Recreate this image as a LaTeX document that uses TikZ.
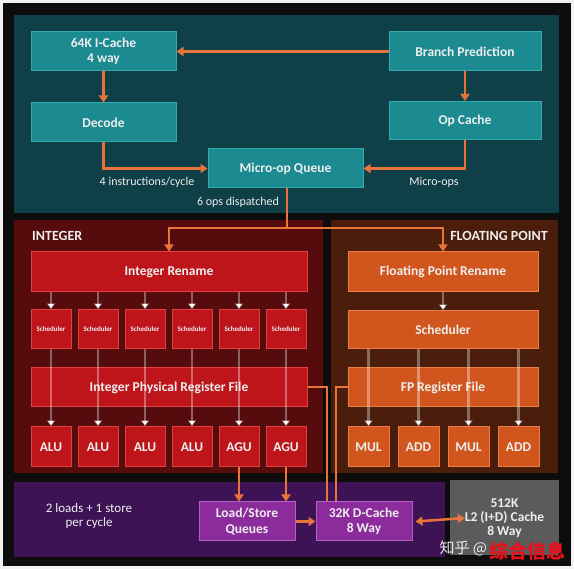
\documentclass[tikz,border=0pt]{standalone}
\usepackage{fontspec}
\setmainfont{Carlito}
\newfontfamily\cjk{Noto Sans CJK SC}
\usepackage{xcolor}
\definecolor{frontend}{HTML}{0F3F47}
\definecolor{frontbox}{HTML}{1B8A91}
\definecolor{frontline}{HTML}{35A9AE}
\definecolor{intpanel}{HTML}{560B0C}
\definecolor{intbox}{HTML}{BE151B}
\definecolor{intline}{HTML}{E2403F}
\definecolor{fppanel}{HTML}{4B1E0C}
\definecolor{fpbox}{HTML}{D1561D}
\definecolor{fpline}{HTML}{EA7D43}
\definecolor{mempanel}{HTML}{3E1356}
\definecolor{membox}{HTML}{8B2B9C}
\definecolor{memline}{HTML}{B460C4}
\definecolor{ltwo}{HTML}{5B5B5B}
\definecolor{wire}{HTML}{E9743B}
\definecolor{label}{HTML}{EEEEEE}
\definecolor{stamp}{HTML}{E8101A}
\usepackage{tikz}
\usetikzlibrary{arrows.meta}
\tikzset{
    font={\fontsize{13.5pt}{15.5pt}\selectfont\bfseries},
    unit/.style={draw, line width=1pt, text=label, align=center, inner sep=0pt},
    front/.style={unit, fill=frontbox, draw=frontline},
    intunit/.style={unit, fill=intbox, draw=intline},
    fpunit/.style={unit, fill=fpbox, draw=fpline},
    memunit/.style={unit, fill=membox, draw=memline},
    wirearrow/.style={draw=wire, line width=2.5pt, -{Triangle[width=9pt,length=7pt]}},
    wireline/.style={draw=wire, line width=2pt},
    issue/.style={draw=white, draw opacity=.35, line width=2.5pt, -{Triangle[width=8pt,length=6pt]}},
    note/.style={text=label, font={\fontsize{12pt}{14pt}\selectfont}},
    title/.style={text=label, inner sep=0pt, font={\fontsize{14pt}{16pt}\selectfont\bfseries}},
    }

\begin{document}
\begin{tikzpicture}
    [x=1pt, y=-1pt]
    \useasboundingbox (0,0) rectangle (574,569);
    \fill[white!90!gray] (0,0) rectangle (574,569);
    \fill[black!95] (3,3) rectangle (571,566);
    % panels
    \fill[frontend] (14,15) rectangle (559,213);
    \fill[intpanel] (14,220) rectangle (323,473);
    \fill[fppanel] (331,220) rectangle (558,473);
    \fill[mempanel] (14,482) rectangle (445,557);
    % front end
    \node[front, minimum width=145pt, minimum height=39pt] (icache) at (103.5,51.5) {64K I-Cache\\4 way};
    \node[front, minimum width=152pt, minimum height=39pt] (bpred) at (465,51.5) {Branch Prediction};
    \node[front, minimum width=145pt, minimum height=39pt] (decode) at (103.5,122.5) {Decode};
    \node[front, minimum width=152pt, minimum height=38pt] (opcache) at (465,120.5) {Op Cache};
    \node[front, minimum width=155pt, minimum height=39pt] (uopq) at (285.5,168.5) {Micro-op Queue};
    \draw[wirearrow] (bpred.west) -- (icache.east);
    \draw[wirearrow] (icache.south) -- (decode.north);
    \draw[wirearrow] (bpred.south) -- (opcache.north);
    \draw[wirearrow] (decode.south) |- (uopq.west);
    \draw[wirearrow] (opcache.south) |- (uopq.east);
    \node[note] (instr) at (147,182) {4 instructions/cycle};
    \node[note] (uops) at (434,182) {Micro-ops};
    \node[note] (dispatch) at (238,202) {6 ops dispatched};
    % integer
    \node[title, anchor=west] (inttitle) at (32,236) {INTEGER};
    \node[intunit, minimum width=276pt, minimum height=40pt] (irename) at (169,272) {Integer Rename};
    \foreach \i/\name in {0/ALU,1/ALU,2/ALU,3/ALU,4/AGU,5/AGU} {
        \node[intunit, minimum width=40pt, minimum height=39pt,
            font={\fontsize{7pt}{8pt}\selectfont\bfseries}] (isched\i) at (51+47*\i,329.5) {Scheduler};
        \node[intunit, minimum width=40pt, minimum height=40pt,
            font={\fontsize{13.5pt}{15pt}\selectfont\bfseries}] (iexec\i) at (51+47*\i,447) {\name};
        \draw[issue] (isched\i.north |- irename.south) -- (isched\i.north);
    }
    \node[intunit, minimum width=276pt, minimum height=39pt] (iprf) at (169,387.5) {Integer Physical Register File};
    \foreach \i in {0,...,5}
        \draw[issue] (isched\i.south) -- (iexec\i.north);
    % floating point
    \node[title, anchor=east] (fptitle) at (548,236) {FLOATING POINT};
    \node[fpunit, minimum width=190pt, minimum height=40pt] (frename) at (443,272) {Floating Point Rename};
    \node[fpunit, minimum width=190pt, minimum height=38pt] (fsched) at (443,330) {Scheduler};
    \draw[issue] (frename.south) -- (fsched.north);
    \foreach \i/\name in {0/MUL,1/ADD,2/MUL,3/ADD}
        \node[fpunit, minimum width=41pt, minimum height=40pt,
            font={\fontsize{13.5pt}{15pt}\selectfont\bfseries}] (fexec\i) at (368.5+50*\i,447) {\name};
    \node[fpunit, minimum width=190pt, minimum height=39pt] (fprf) at (443,387.5) {FP Register File};
    \foreach \i in {0,...,3}
        \draw[issue] (fexec\i.north |- fsched.south) -- (fexec\i.north);
    % dispatch
    \coordinate (split) at (287,228);
    \draw[wireline, line width=2.5pt] (uopq.south -| split) -- (split);
    \draw[wirearrow] (split) -| (irename.north);
    \draw[wirearrow] (split) -| (frename.north);
    % load/store
    \node[text=label, align=center, font={\fontsize{13pt}{14pt}\selectfont}] (ldst) at (89,516) {2 loads + 1 store\\per cycle};
    \node[memunit, minimum width=96pt, minimum height=39pt] (lsq) at (247,521.5) {Load/Store\\Queues};
    \node[memunit, minimum width=96pt, minimum height=39pt] (dcache) at (364,521.5) {32K D-Cache\\8 Way};
    \node[fill=ltwo, text=label, align=center, minimum width=109pt, minimum height=75pt,
        font={\fontsize{13.5pt}{14pt}\selectfont\bfseries}] (ltwo) at (504.5,518) {512K\\L2 (I+D) Cache\\8 Way};
    \draw[wirearrow] (iexec4.south) -- (iexec4.south |- lsq.north);
    \draw[wirearrow] (iexec5.south) -- (iexec5.south |- lsq.north);
    \draw[wirearrow] (lsq.east) -- (dcache.west);
    \draw[wirearrow, {Triangle[width=9pt,length=7pt]}-{Triangle[width=9pt,length=7pt]}]
        ([xshift=3pt]dcache.east) -- ([xshift=15pt]ltwo.west);
    \draw[wireline] (iprf.east) -| ([xshift=11pt]dcache.north west);
    \draw[wireline] (fprf.west) -| ([xshift=20pt]dcache.north west);
    % watermark
    \node[text=white!85!gray, anchor=west, font={\cjk\fontsize{15pt}{15pt}\selectfont}] (zhihu) at (436,548) {知乎 @};
    \node[text=stamp, inner sep=0pt, font={\cjk\fontsize{19pt}{19pt}\selectfont\bfseries}] (stampname) at (527,551) {综合信息};
\end{tikzpicture}
\end{document}
